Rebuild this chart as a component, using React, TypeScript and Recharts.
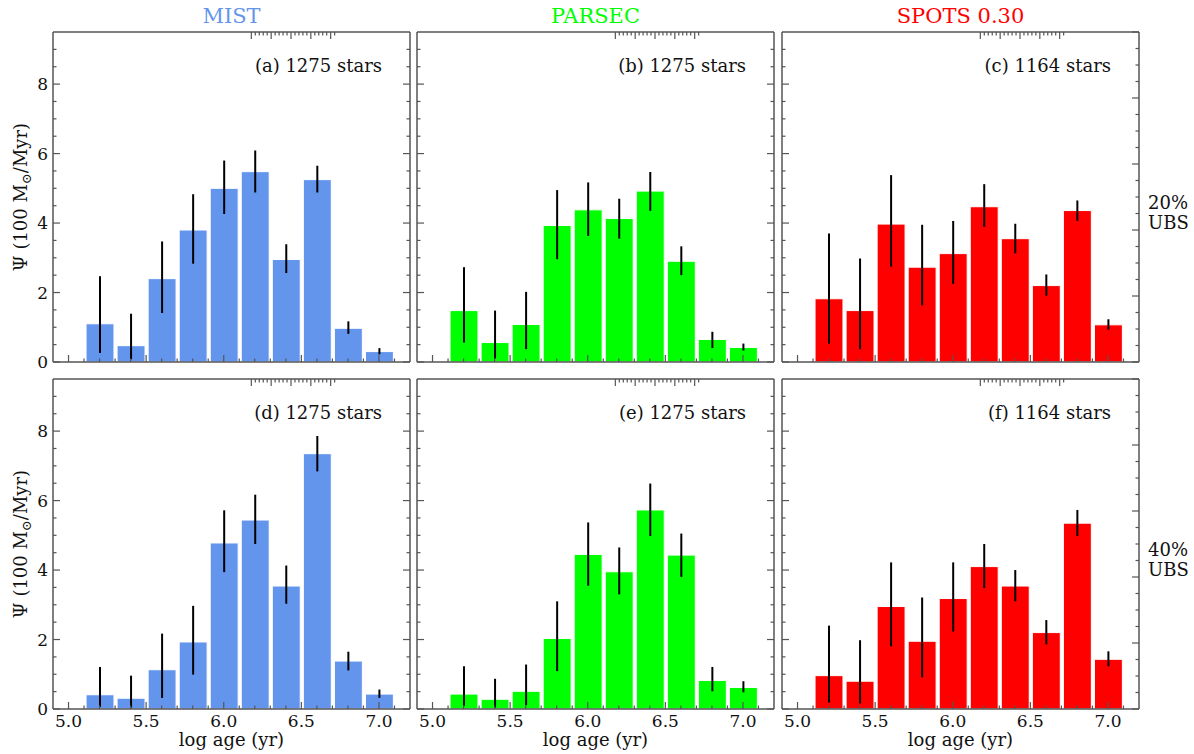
import { BarChart, Bar, XAxis, YAxis, ErrorBar } from "recharts"

// bin centres, log age (yr)
const ageBins = [5.2, 5.4, 5.6, 5.8, 6.0, 6.2, 6.4, 6.6, 6.8, 7.0]

// 20% UBS
const mist20 = [1.1, 0.47, 2.4, 3.8, 5.0, 5.48, 2.95, 5.25, 0.97, 0.3]
const mist20Lo = [0.26, 0.08, 1.41, 2.83, 4.26, 4.88, 2.56, 4.88, 0.81, 0.22]
const mist20Hi = [2.47, 1.39, 3.47, 4.83, 5.8, 6.09, 3.39, 5.65, 1.17, 0.4]

const parsec20 = [1.48, 0.56, 1.08, 3.93, 4.38, 4.13, 4.92, 2.9, 0.65, 0.42]
const parsec20Lo = [0.56, 0.1, 0.37, 2.96, 3.63, 3.55, 4.35, 2.5, 0.4, 0.33]
const parsec20Hi = [2.73, 1.48, 2.02, 4.95, 5.17, 4.7, 5.47, 3.33, 0.87, 0.53]

const spots20 = [1.82, 1.48, 3.97, 2.73, 3.12, 4.47, 3.55, 2.2, 4.36, 1.07]
const spots20Lo = [0.53, 0.37, 2.74, 1.63, 2.25, 3.89, 3.13, 1.91, 4.06, 0.93]
const spots20Hi = [3.7, 2.98, 5.38, 3.95, 4.06, 5.12, 3.98, 2.52, 4.65, 1.23]

// 40% UBS
const mist40 = [0.41, 0.31, 1.13, 1.93, 4.78, 5.44, 3.54, 7.35, 1.38, 0.43]
const mist40Lo = [0.06, 0.04, 0.32, 0.99, 3.94, 4.75, 3.03, 6.84, 1.11, 0.32]
const mist40Hi = [1.21, 0.96, 2.17, 2.97, 5.72, 6.17, 4.13, 7.86, 1.65, 0.56]

const parsec40 = [0.43, 0.28, 0.51, 2.03, 4.45, 3.95, 5.73, 4.43, 0.82, 0.62]
const parsec40Lo = [0.09, 0.04, 0.11, 1.09, 3.55, 3.3, 4.98, 3.8, 0.51, 0.48]
const parsec40Hi = [1.23, 0.87, 1.28, 3.1, 5.37, 4.65, 6.49, 5.05, 1.21, 0.8]

const spots40 = [0.96, 0.8, 2.95, 1.95, 3.18, 4.1, 3.54, 2.2, 5.35, 1.43]
const spots40Lo = [0.18, 0.16, 1.8, 0.91, 2.23, 3.48, 3.1, 1.86, 4.98, 1.23]
const spots40Hi = [2.4, 1.98, 4.22, 3.21, 4.22, 4.75, 4.0, 2.56, 5.73, 1.66]

// axes
const xTicks = [5.0, 5.1, 5.2, 5.3, 5.4, 5.5, 5.6, 5.7, 5.8, 5.9, 6.0, 6.1, 6.2, 6.3, 6.4, 6.5, 6.6, 6.7, 6.8, 6.9, 7.0, 7.1]
const xMajor = [5.0, 5.5, 6.0, 6.5, 7.0]
const yTicks = [0, 0.5, 1, 1.5, 2, 2.5, 3, 3.5, 4, 4.5, 5, 5.5, 6, 6.5, 7, 7.5, 8, 8.5, 9]
const yMajor = [0, 2, 4, 6, 8]
// twin right axis of the SPOTS panels
const twinTicks = [0, 0.25, 0.5, 0.75, 1, 1.25, 1.5, 1.75, 2, 2.25, 2.5, 2.75, 3, 3.25, 3.5, 3.75, 4, 4.25, 4.5, 4.75, 5]
const twinMajor = [0, 1, 2, 3, 4, 5]

const models = ["MIST", "PARSEC", "SPOTS 0.30"]
const modelColors = ["#6495ED", "#00FF00", "#FF0000"]
const ubsLabels = ["20%", "40%"]

const panels = [
  { tag: "(a) 1275 stars", v: mist20, lo: mist20Lo, hi: mist20Hi, col: 0, row: 0 },
  { tag: "(b) 1275 stars", v: parsec20, lo: parsec20Lo, hi: parsec20Hi, col: 1, row: 0 },
  { tag: "(c) 1164 stars", v: spots20, lo: spots20Lo, hi: spots20Hi, col: 2, row: 0 },
  { tag: "(d) 1275 stars", v: mist40, lo: mist40Lo, hi: mist40Hi, col: 0, row: 1 },
  { tag: "(e) 1275 stars", v: parsec40, lo: parsec40Lo, hi: parsec40Hi, col: 1, row: 1 },
  { tag: "(f) 1164 stars", v: spots40, lo: spots40Lo, hi: spots40Hi, col: 2, row: 1 },
]

const X_DOMAIN: [number, number] = [4.9, 7.2]
const Y_DOMAIN: [number, number] = [0, 9.5]
const W = 357
const H = 330
const colLeft = [53, 417, 782]
const rowTop = [32, 379]
const M = { top: 30, right: 40, bottom: 45, left: 50 }
const A = 20 // room given to every axis inside the margin
const FONT = "DejaVu Serif"
const FRAME = "#555555"
const frameLine = { stroke: FRAME, strokeWidth: 1.5 }

const isIn = (arr: number[], v: number) => arr.some((m) => Math.abs(m - v) < 1e-6)

function makeTick(side: "bottom" | "top" | "left" | "right", majors: number[], labels: boolean, fmt: (v: number) => string) {
  return (props: any) => {
    const { x, y, payload } = props
    const v = payload.value
    const major = isIn(majors, v)
    const len = major ? 7 : 3.5
    let line
    let label = null
    if (side === "bottom") {
      line = <line x1={x} y1={y} x2={x} y2={y - len} stroke={FRAME} strokeWidth={1.2} />
      if (labels && major)
        label = <text x={x} y={y + 18} textAnchor="middle" fontSize={17} fontFamily={FONT} fill="#111">{fmt(v)}</text>
    } else if (side === "top") {
      line = <line x1={x} y1={y} x2={x} y2={y + len} stroke={FRAME} strokeWidth={1.2} />
    } else if (side === "left") {
      line = <line x1={x} y1={y} x2={x + len} y2={y} stroke={FRAME} strokeWidth={1.2} />
      if (labels && major)
        label = <text x={x - 5} y={y + 6} textAnchor="end" fontSize={17} fontFamily={FONT} fill="#111">{fmt(v)}</text>
    } else {
      line = <line x1={x} y1={y} x2={x - len} y2={y} stroke={FRAME} strokeWidth={1.2} />
    }
    return (
      <g>
        {line}
        {label}
      </g>
    )
  }
}

function Panel({ p }: { p: (typeof panels)[number] }) {
  const data = ageBins.map((x, i) => ({
    x,
    psi: p.v[i],
    err: [p.v[i] - p.lo[i], p.hi[i] - p.v[i]],
  }))
  const barSize = (W * 0.2) / (X_DOMAIN[1] - X_DOMAIN[0])
  const twin = p.col === 2
  const margin = { top: M.top - A, right: M.right - A, bottom: M.bottom - A, left: M.left - A }
  return (
    <div style={{ position: "absolute", left: colLeft[p.col] - M.left, top: rowTop[p.row] - M.top }}>
      <BarChart width={W + M.left + M.right} height={H + M.top + M.bottom} data={data} margin={margin}>
        <XAxis
          xAxisId="b"
          type="number"
          dataKey="x"
          domain={X_DOMAIN}
          allowDataOverflow
          ticks={xTicks}
          interval={0}
          height={A}
          tickSize={0}
          tickMargin={0}
          tickLine={false}
          axisLine={frameLine}
          tick={makeTick("bottom", xMajor, p.row === 1, (v) => v.toFixed(1))}
        />
        <XAxis
          xAxisId="t"
          orientation="top"
          type="number"
          domain={X_DOMAIN}
          allowDataOverflow
          ticks={xTicks}
          interval={0}
          height={A}
          tickSize={0}
          tickMargin={0}
          tickLine={false}
          axisLine={frameLine}
          tick={makeTick("top", xMajor, false, String)}
        />
        <YAxis
          yAxisId="l"
          type="number"
          domain={Y_DOMAIN}
          allowDataOverflow
          ticks={yTicks}
          interval={0}
          width={A}
          tickSize={0}
          tickMargin={0}
          tickLine={false}
          axisLine={frameLine}
          tick={makeTick("left", yMajor, p.col === 0, (v) => String(v))}
        />
        <YAxis
          yAxisId="r"
          orientation="right"
          type="number"
          domain={twin ? [0, 5] : Y_DOMAIN}
          allowDataOverflow
          ticks={twin ? twinTicks : yTicks}
          interval={0}
          width={A}
          tickSize={0}
          tickMargin={0}
          tickLine={false}
          axisLine={frameLine}
          tick={makeTick("right", twin ? twinMajor : yMajor, false, String)}
        />
        <Bar
          xAxisId="b"
          yAxisId="l"
          dataKey="psi"
          fill={modelColors[p.col]}
          stroke="#ffffff"
          strokeWidth={1}
          barSize={barSize}
          isAnimationActive={false}
        >
          <ErrorBar dataKey="err" width={0} stroke="#000000" strokeWidth={2} direction="y" />
        </Bar>
      </BarChart>
    </div>
  )
}

export default function App() {
  return (
    <div style={{ position: "absolute", left: 0, top: 0, width: 1194, height: 754, background: "#ffffff", fontFamily: FONT }}>
      {panels.map((p) => (
        <Panel key={p.tag} p={p} />
      ))}
      <svg width={1194} height={754} style={{ position: "absolute", left: 0, top: 0, pointerEvents: "none" }} fontFamily={FONT}>
        {models.map((m, c) => (
          <text key={m} x={colLeft[c] + W / 2} y={23} textAnchor="middle" fontSize={21} fill={modelColors[c]}>
            {m}
          </text>
        ))}
        {panels.map((p) => (
          <text key={p.tag} x={colLeft[p.col] + W - 28} y={rowTop[p.row] + 40} textAnchor="end" fontSize={18} fill="#111">
            {p.tag}
          </text>
        ))}
        {ubsLabels.map((u, r) => (
          <text key={u} x={1148} y={rowTop[r] + H / 2 + 12} fontSize={18} fill="#111">
            <tspan x={1148}>{u}</tspan>
            <tspan x={1148} dy={20}>UBS</tspan>
          </text>
        ))}
        {rowTop.map((t) => (
          <text key={t} transform={`translate(27, ${t + H / 2}) rotate(-90)`} textAnchor="middle" fontSize={18} fill="#111">
            Ψ (100 M<tspan fontSize={13} dy={4}>⊙</tspan>
            <tspan dy={-4}>/Myr)</tspan>
          </text>
        ))}
        {colLeft.map((l) => (
          <text key={l} x={l + W / 2} y={746} textAnchor="middle" fontSize={18} fill="#111">
            log age (yr)
          </text>
        ))}
      </svg>
    </div>
  )
}
